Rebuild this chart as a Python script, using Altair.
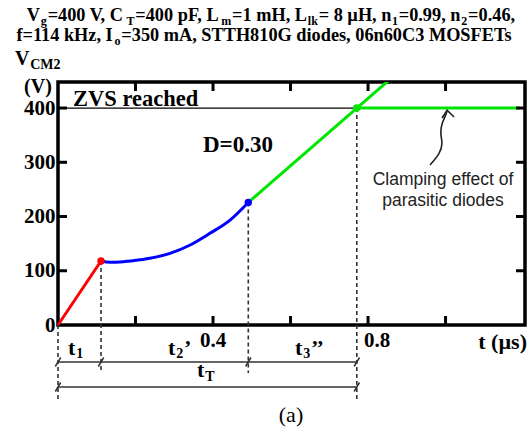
import altair as alt
import pandas as pd

# ---------------- data ----------------
red_t = [0.0, 0.111]
red_v = [0, 118]
blue_t = [0.111, 0.134, 0.16, 0.186, 0.237, 0.289, 0.341, 0.392, 0.444, 0.491]
blue_v = [118, 115.6, 116, 118, 123, 132, 147.5, 169, 193.5, 226]
green_rise_t = [0.491, 0.771, 0.86]
green_rise_v = [226, 400, 455]
green_clamp_t = [0.771, 1.192]
green_clamp_v = [400, 400]
zvs_t = [0.0, 0.771]
zvs_v = [400, 400]
marker_t = [0.111, 0.491, 0.771]
marker_v = [118, 226, 400]
marker_c = ["#ff0000", "#0000ff", "#00e600"]
x_ticks = [0.2, 0.4, 0.6, 0.8, 1.0]
y_ticks = [100, 200, 300, 400]
y_labels = [0, 100, 200, 300, 400]
x_label_vals = [0.4, 0.8]
x_label_txt = ["0.4", "0.8"]
arrow_t = [0.960, 0.986, 0.993, 0.986, 0.990, 1.003, 1.004]
arrow_v = [295, 316.5, 335, 353, 372, 390, 396]
head_t = [0.991, 1.004, 1.022]
head_v = [381.6, 396, 383.4]
dim_row1_t = [0.0, 0.111, 0.491, 0.771]
dim_row2_t = [0.0, 0.771]

X_DOMAIN = [0, 1.205]
Y_DOMAIN = [0, 448]

# ---------------- layout ----------------
W, H = 467, 243
PL, PT = 58, 82
SERIF = "Liberation Serif"
SANS = "Liberation Sans"


def rx(px):
    return px - PL


def ry(py):
    return py - PT


def X(field):
    return alt.X(f"{field}:Q", scale=alt.Scale(domain=X_DOMAIN, nice=False, zero=False), axis=None)


def Y(field, axis=True):
    ax = (alt.Axis(values=y_labels, ticks=False, domain=False, grid=False, title=None,
                   labelFont=SERIF, labelFontWeight="bold", labelFontSize=21,
                   labelColor="black", labelPadding=3)
          if axis else None)
    return alt.Y(f"{field}:Q", scale=alt.Scale(domain=Y_DOMAIN, nice=False), axis=ax)


def line_df(ts, vs):
    return pd.DataFrame({"t": ts, "v": vs, "i": list(range(len(ts)))})


# Times Bold metrics (per 1000 em); Liberation Serif is metric compatible
TB = {" ": 250, ",": 250, ".": 250, "=": 570, "(": 333, ")": 333, "’": 333, "”": 500,
      "µ": 556, "A": 722, "C": 722, "D": 722, "E": 667, "F": 611, "G": 778, "H": 778,
      "I": 389, "L": 667, "M": 944, "O": 778, "S": 556, "T": 667, "V": 722, "Z": 667,
      "a": 500, "c": 444, "d": 556, "e": 444, "f": 333, "g": 500, "h": 556, "i": 278,
      "k": 556, "l": 278, "m": 833, "n": 556, "o": 500, "p": 556, "r": 444, "s": 389,
      "t": 333, "z": 444}
for _d in "0123456789":
    TB[_d] = 500


def tw(s, size):
    return sum(TB.get(ch, 500) for ch in s) * size / 1000.0


def runs(segs, x, y, size, subsize, drop, align="left", gap=0.8):
    total = sum(tw(s, subsize if sub else size) + (2 * gap if sub else 0) for s, sub in segs)
    if align == "center":
        x -= total / 2
    out = []
    for s, sub in segs:
        sz = subsize if sub else size
        if sub:
            x += gap
        out.append((x, y + (drop if sub else 0), s, sz))
        x += tw(s, sz) + (gap if sub else 0)
    return out


dummy = pd.DataFrame({"a": [0]})


def text_layer(x, y, s, size, font=SERIF, weight="bold", align="left", color="black"):
    return alt.Chart(dummy).mark_text(
        text=s, font=font, fontWeight=weight, fontSize=size, align=align,
        baseline="alphabetic", color=color
    ).encode(x=alt.value(x), y=alt.value(y))


layers = []

# ---- curves ----
layers.append(alt.Chart(line_df(zvs_t, zvs_v)).mark_line(color="black", strokeWidth=1.3)
              .encode(x=X("t"), y=Y("v"), order="i:Q"))
layers.append(alt.Chart(line_df(red_t, red_v)).mark_line(color="#ff0000", strokeWidth=3)
              .encode(x=X("t"), y=Y("v"), order="i:Q"))
layers.append(alt.Chart(line_df(blue_t, blue_v)).mark_line(color="#0000ff", strokeWidth=3,
                                                            interpolate="monotone")
              .encode(x=X("t"), y=Y("v"), order="i:Q"))
layers.append(alt.Chart(line_df(green_rise_t, green_rise_v)).mark_line(color="#00e600", strokeWidth=3,
                                                                        clip=True)
              .encode(x=X("t"), y=Y("v"), order="i:Q"))
layers.append(alt.Chart(line_df(green_clamp_t, green_clamp_v)).mark_line(color="#00e600", strokeWidth=3)
              .encode(x=X("t"), y=Y("v"), order="i:Q"))

# ---- dashed verticals ----
long_dash = pd.DataFrame({"t": [0.0, marker_t[2]], "v": [0, marker_v[2]]})
short_dash = pd.DataFrame({"t": marker_t[:2], "v": marker_v[:2]})
layers.append(alt.Chart(long_dash).mark_rule(color="#333", strokeWidth=1.6, strokeDash=[4, 3])
              .encode(x=X("t"), y=Y("v"), y2=alt.value(ry(400))))
layers.append(alt.Chart(short_dash).mark_rule(color="#333", strokeWidth=1.6, strokeDash=[4, 3])
              .encode(x=X("t"), y=Y("v"), y2=alt.value(ry(373))))

# ---- markers ----
mk = pd.DataFrame({"t": marker_t, "v": marker_v, "c": marker_c})
layers.append(alt.Chart(mk).mark_point(filled=True, size=55, opacity=1)
              .encode(x=X("t"), y=Y("v"), color=alt.Color("c:N", scale=None)))

# ---- annotation arrow ----
layers.append(alt.Chart(line_df(arrow_t, arrow_v)).mark_line(color="#222", strokeWidth=1.6,
                                                              interpolate="basis")
              .encode(x=X("t"), y=Y("v"), order="i:Q"))
layers.append(alt.Chart(line_df(head_t, head_v)).mark_line(color="#222", strokeWidth=1.6)
              .encode(x=X("t"), y=Y("v"), order="i:Q"))

# ---- inward ticks on all four sides ----
xt = pd.DataFrame({"t": x_ticks})
yt = pd.DataFrame({"v": y_ticks})
TK = 9
layers.append(alt.Chart(xt).mark_rule(color="black", strokeWidth=3)
              .encode(x=X("t"), y=alt.value(H), y2=alt.value(H - TK)))
layers.append(alt.Chart(xt).mark_rule(color="black", strokeWidth=3)
              .encode(x=X("t"), y=alt.value(0), y2=alt.value(TK)))
layers.append(alt.Chart(yt).mark_rule(color="black", strokeWidth=3)
              .encode(y=Y("v"), x=alt.value(0), x2=alt.value(TK)))
layers.append(alt.Chart(yt).mark_rule(color="black", strokeWidth=3)
              .encode(y=Y("v"), x=alt.value(W), x2=alt.value(W - TK)))

# ---- x tick labels ----
xl = pd.DataFrame({"t": x_label_vals, "s": x_label_txt})
layers.append(alt.Chart(xl.iloc[:1]).mark_text(font=SERIF, fontWeight="bold", fontSize=21,
                                               baseline="alphabetic", color="black")
              .encode(x=X("t"), y=alt.value(ry(347)), text="s:N"))
layers.append(alt.Chart(xl.iloc[1:]).mark_text(font=SERIF, fontWeight="bold", fontSize=21,
                                               baseline="alphabetic", color="black", dx=9)
              .encode(x=X("t"), y=alt.value(ry(347)), text="s:N"))

# ---- dimension lines below the axis ----
d1 = pd.DataFrame({"a": [dim_row1_t[0]], "b": [dim_row1_t[-1]]})
d2 = pd.DataFrame({"a": [dim_row2_t[0]], "b": [dim_row2_t[-1]]})
for d, yy in ((d1, 362), (d2, 387)):
    layers.append(alt.Chart(d).mark_rule(color="#333", strokeWidth=1.5)
                  .encode(x=X("a"), x2="b:Q", y=alt.value(ry(yy))))
for ts, yy in ((dim_row1_t, 362), (dim_row2_t, 387)):
    layers.append(alt.Chart(pd.DataFrame({"t": ts}))
                  .mark_point(shape="M-0.6,1L0.6,-1", size=81, filled=False, color="#333",
                              strokeWidth=1.5, opacity=1)
                  .encode(x=X("t"), y=alt.value(ry(yy))))

# ---- texts ----
texts = []
line1 = [("V", 0), ("g", 1), ("=400 V, C", 0), ("T", 1), ("=400 pF, L", 0), ("m", 1),
         ("=1 mH, L", 0), ("lk", 1), ("= 8 µH, n", 0), ("1", 1), ("=0.99, n", 0), ("2", 1),
         ("=0.46,", 0)]
line2 = [("f=114 kHz, I", 0), ("o", 1), ("=350 mA, STTH810G diodes, 06n60C3 MOSFETs", 0)]
texts += runs(line1, rx(271), ry(21), 18.3, 12, 3.5, align="center")
texts += runs(line2, rx(265), ry(41), 18.3, 12, 3.5, align="center")
texts += runs([("V", 0), ("CM2", 1)], rx(15), ry(65), 20, 14, 4)
texts += runs([("(V)", 0)], rx(38), ry(93), 20, 14, 4, align="center")
texts += runs([("ZVS reached", 0)], rx(73), ry(106), 22.5, 14, 4)
texts += runs([("D=0.30", 0)], rx(203), ry(152), 23, 14, 4)
texts += runs([("t", 0), ("1", 1)], rx(68), ry(355), 22, 14, 3)
texts += runs([("t", 0), ("2", 1), ("’", 0)], rx(168), ry(355), 22, 14, 3)
texts += runs([("t", 0), ("3", 1), ("’’", 0)], rx(295), ry(355), 22, 14, 3)
texts += runs([("t", 0), ("T", 1)], rx(197), ry(377), 22, 14, 4)
for x, y, s, sz in texts:
    layers.append(text_layer(x, y, s, sz))

layers.append(text_layer(rx(527), ry(349), "t (µs)", 22, align="right"))
layers.append(text_layer(rx(291), ry(422), "(a)", 22, weight="normal", align="center"))
layers.append(text_layer(rx(443), ry(185), "Clamping effect of", 17.5, font=SANS,
                         weight="normal", align="center", color="#222"))
layers.append(text_layer(rx(443), ry(206), "parasitic diodes", 17.5, font=SANS,
                         weight="normal", align="center", color="#222"))

chart = alt.layer(*layers).properties(
    width=W, height=H,
    autosize=alt.AutoSizeParams(type="none"),
    padding={"left": PL, "top": PT, "right": 532 - PL - W, "bottom": 434 - PT - H},
    background="white",
).configure_view(stroke="black", strokeWidth=3.5)

chart.save("out.html", embed_options={"renderer": "svg", "actions": False})
